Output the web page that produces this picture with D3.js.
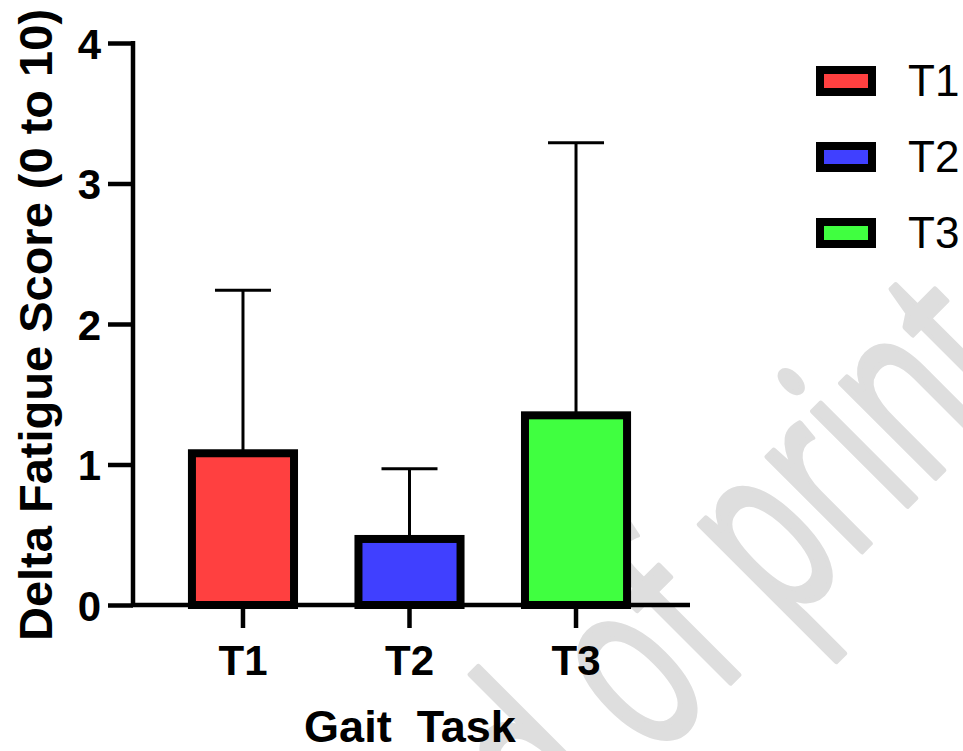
<!DOCTYPE html>
<html>
<head>
<meta charset="utf-8">
<script src="https://cdn.jsdelivr.net/npm/d3@7"></script>
<style>
  html, body { margin: 0; padding: 0; background: #fff; }
  svg { display: block; }
</style>
</head>
<body>
<svg id="chart" width="963" height="751"></svg>
<script>
// Change in fatigue score per gait task: group mean and standard deviation
const tasks = ["T1", "T2", "T3"];
const meanDelta = [1.08, 0.47, 1.35];
const sdDelta = [1.16, 0.50, 1.94];
const barColors = ["#ff4040", "#4040ff", "#40ff40"];
const yTicks = [0, 1, 2, 3, 4];
const yTitle = "Delta Fatigue Score (0 to 10)";
const xTitle = "Gait  Task";
const watermarkText = "Ahead of print";

const FONT = "'Liberation Sans', Arial, Helvetica, sans-serif";
const svg = d3.select("#chart");

const rows = tasks.map((t, i) => ({ task: t, mean: meanDelta[i], sd: sdDelta[i], color: barColors[i] }));

const x = d3.scaleBand()
  .domain(tasks)
  .range([131, 688])
  .paddingInner(0.387)
  .paddingOuter(0.366);

const y = d3.scaleLinear().domain([0, 4]).range([605, 43]);

// faint diagonal watermark behind the plot
const wm = svg.append("g")
  .attr("transform", "translate(784,629) rotate(-45) scale(0.63,1)");
const wmText = wm.append("text")
  .attr("font-family", "'Open Sans', 'Noto Sans', sans-serif")
  .attr("font-size", 249)
  .attr("fill", "#dedede")
  .attr("stroke", "#dedede")
  .attr("stroke-width", 6)
  .attr("stroke-linejoin", "round")
  .attr("y", 0)
  .text(watermarkText);
const pOffset = wmText.node().getSubStringLength(0, watermarkText.indexOf("print"));
wmText.attr("x", -pOffset);

// error bars (upper SD only), drawn under the bars
const err = svg.append("g").attr("stroke", "#000").attr("stroke-width", 3);
err.selectAll("line.stem").data(rows).join("line")
  .attr("class", "stem")
  .attr("x1", d => x(d.task) + x.bandwidth() / 2)
  .attr("x2", d => x(d.task) + x.bandwidth() / 2)
  .attr("y1", d => y(d.mean))
  .attr("y2", d => y(d.mean + d.sd));
err.selectAll("line.cap").data(rows).join("line")
  .attr("class", "cap")
  .attr("x1", d => x(d.task) + x.bandwidth() / 2 - 28)
  .attr("x2", d => x(d.task) + x.bandwidth() / 2 + 28)
  .attr("y1", d => y(d.mean + d.sd))
  .attr("y2", d => y(d.mean + d.sd));

// bars
svg.append("g").selectAll("rect").data(rows).join("rect")
  .attr("x", d => x(d.task))
  .attr("y", d => y(d.mean))
  .attr("width", x.bandwidth())
  .attr("height", d => y(0) - y(d.mean))
  .attr("fill", d => d.color)
  .attr("stroke", "#000")
  .attr("stroke-width", 8);

// y axis
const yAxis = svg.append("g")
  .attr("transform", "translate(133,0)")
  .call(d3.axisLeft(y).tickValues(yTicks).tickFormat(d3.format("d")).tickSize(25).tickSizeOuter(0));
yAxis.select(".domain").remove();
yAxis.append("line")
  .attr("x1", 0).attr("x2", 0)
  .attr("y1", y(4) - 2).attr("y2", y(0) + 2)
  .attr("stroke", "#000").attr("stroke-width", 4.5);
yAxis.selectAll(".tick line").attr("stroke", "#000").attr("stroke-width", 4.5);
yAxis.selectAll(".tick text")
  .attr("x", -32)
  .attr("dy", null)
  .attr("y", 15)
  .attr("font-family", FONT)
  .attr("font-weight", "bold")
  .attr("font-size", 42)
  .attr("fill", "#000");

// x axis
const xAxis = svg.append("g")
  .attr("transform", `translate(0,${y(0)})`)
  .call(d3.axisBottom(x).tickSize(23).tickSizeOuter(0));
xAxis.select(".domain").remove();
xAxis.append("line")
  .attr("x1", 131).attr("x2", 690)
  .attr("y1", 0).attr("y2", 0)
  .attr("stroke", "#000").attr("stroke-width", 4.5);
xAxis.selectAll(".tick line").attr("stroke", "#000").attr("stroke-width", 4.5);
xAxis.selectAll(".tick text")
  .attr("y", 70)
  .attr("dy", null)
  .attr("font-family", FONT)
  .attr("font-weight", "bold")
  .attr("font-size", 42)
  .attr("fill", "#000");

// axis titles
svg.append("text")
  .attr("transform", "translate(52,325) rotate(-90)")
  .attr("text-anchor", "middle")
  .attr("font-family", FONT)
  .attr("font-weight", "bold")
  .attr("font-size", 47)
  .attr("fill", "#000")
  .text(yTitle);

svg.append("text")
  .attr("x", 410)
  .attr("y", 742)
  .attr("text-anchor", "middle")
  .attr("font-family", FONT)
  .attr("font-weight", "bold")
  .attr("font-size", 45)
  .attr("fill", "#000")
  .style("white-space", "pre")
  .text(xTitle);

// legend
const legend = svg.append("g").selectAll("g").data(rows).join("g")
  .attr("transform", (d, i) => `translate(0,${i * 76})`);
legend.append("rect")
  .attr("x", 820).attr("y", 70)
  .attr("width", 52).attr("height", 22)
  .attr("fill", d => d.color)
  .attr("stroke", "#000")
  .attr("stroke-width", 8);
legend.append("text")
  .attr("x", 908).attr("y", 96)
  .attr("font-family", FONT)
  .attr("font-size", 44)
  .attr("fill", "#000")
  .text(d => d.task);
</script>
</body>
</html>
